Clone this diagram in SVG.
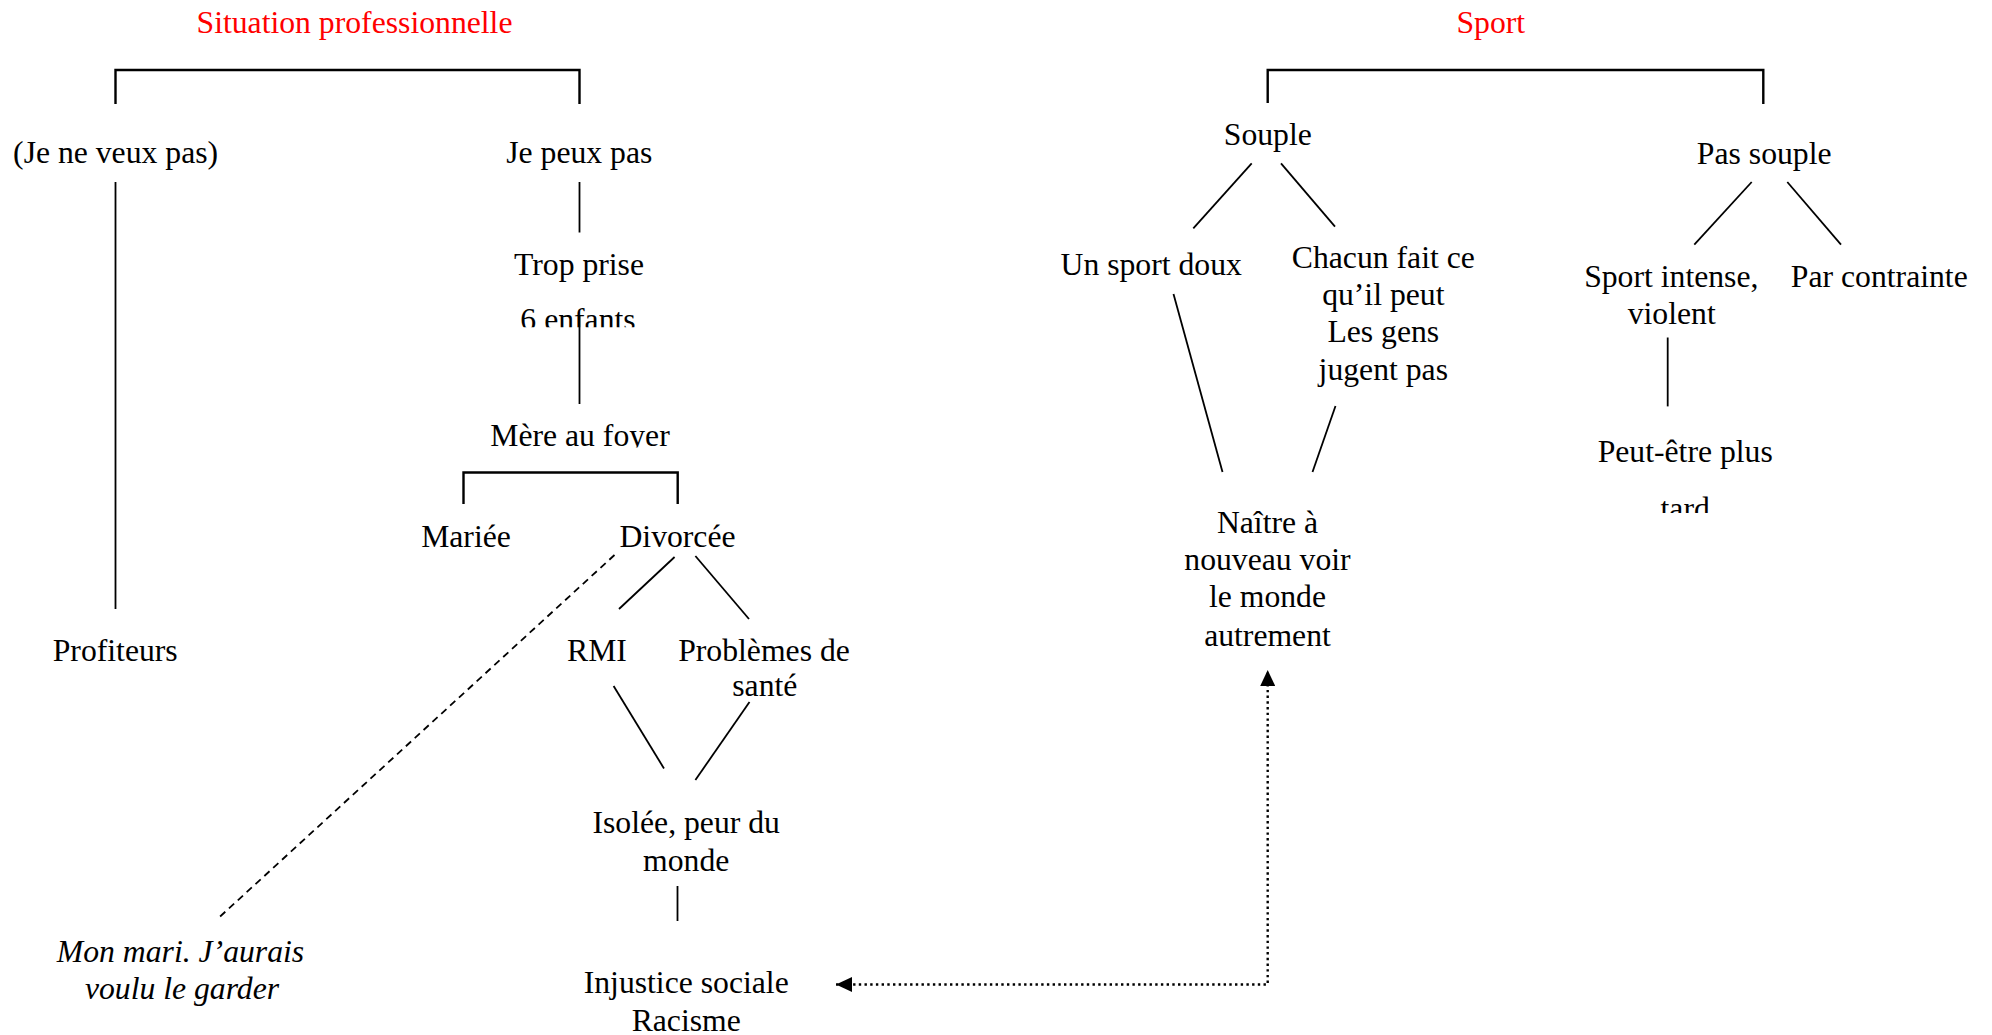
<svg xmlns="http://www.w3.org/2000/svg" width="1992" height="1035" viewBox="0 0 1992 1035">
<style>
text{font-family:"Liberation Serif","Times New Roman",serif;font-size:31.7px;fill:#000;text-anchor:middle}
.title{fill:#ff0000}
.it{font-style:italic}
.ln{stroke:#000;stroke-width:1.8;fill:none}
.br{stroke:#000;stroke-width:2.4;fill:none}
.dash{stroke:#000;stroke-width:1.8;fill:none;stroke-dasharray:7 5}
.dot{stroke:#000;stroke-width:2.4;fill:none;stroke-dasharray:2.4 3.3}
</style>
<defs>
<marker id="ah" markerUnits="userSpaceOnUse" markerWidth="16" markerHeight="15" refX="16" refY="7.5" orient="auto-start-reverse">
<path d="M0,0 L16,7.5 L0,15 Z" fill="#000"/>
</marker>
<clipPath id="c6"><rect x="480" y="290" width="200" height="37.2"/></clipPath>
<clipPath id="cm"><rect x="460" y="410" width="240" height="37.5"/></clipPath>
<clipPath id="ct"><rect x="1640" y="480" width="100" height="33"/></clipPath>
</defs>
<rect width="1992" height="1035" fill="#fff"/>

<g id="titles">
<text class="title" x="354.5" y="33">Situation professionnelle</text>
<text class="title" x="1490.8" y="33">Sport</text>
</g>

<g id="connectors">
<path class="br" d="M115.5,104 V70 H579.5 V104"/>
<path class="br" d="M1267.7,103 V70 H1763.3 V104"/>
<path class="br" d="M463.5,504 V472.5 H677.7 V504"/>
<line class="ln" x1="115.5" y1="182" x2="115.5" y2="609"/>
<line class="ln" x1="579.5" y1="182" x2="579.5" y2="232.5"/>
<line class="ln" x1="579.5" y1="316" x2="579.5" y2="404"/>
<line class="ln" x1="674.6" y1="557" x2="619" y2="609"/>
<line class="ln" x1="695.4" y1="556" x2="749" y2="619"/>
<line class="ln" x1="613.6" y1="686" x2="664" y2="768.5"/>
<line class="ln" x1="749.5" y1="702" x2="695.4" y2="780"/>
<line class="ln" x1="677.5" y1="886" x2="677.5" y2="921"/>
<line class="dash" x1="614.5" y1="555" x2="218.5" y2="918"/>
<line class="ln" x1="1251.7" y1="163.3" x2="1193.3" y2="228.3"/>
<line class="ln" x1="1281" y1="163.3" x2="1335" y2="226.7"/>
<line class="ln" x1="1173.5" y1="294" x2="1222.5" y2="472"/>
<line class="ln" x1="1335.5" y1="406" x2="1312.5" y2="472"/>
<line class="ln" x1="1751.7" y1="182" x2="1694.3" y2="244.6"/>
<line class="ln" x1="1787.3" y1="182" x2="1841" y2="244.6"/>
<line class="ln" x1="1667.7" y1="337.5" x2="1667.7" y2="406.4"/>
<path class="dot" d="M836,984.5 H1267.7 V670" marker-start="url(#ah)" marker-end="url(#ah)"/>
</g>

<g id="n-jeneveux"><text x="115.6" y="162.5">(Je ne veux pas)</text></g>
<g id="n-jepeux"><text x="579.3" y="162.5">Je peux pas</text></g>
<g id="n-trop">
<text x="579" y="275">Trop prise</text>
<text x="578" y="329.5" clip-path="url(#c6)">6 enfants</text>
</g>
<g id="n-mere"><text x="580" y="446" clip-path="url(#cm)">Mère au foyer</text></g>
<g id="n-mariee"><text x="466" y="547">Mariée</text></g>
<g id="n-divorcee"><text x="677.5" y="547">Divorcée</text></g>
<g id="n-profiteurs"><text x="115.2" y="660.5">Profiteurs</text></g>
<g id="n-rmi"><text x="597" y="660.5">RMI</text></g>
<g id="n-problemes">
<text x="764" y="660.5">Problèmes de</text>
<text x="764.8" y="696">santé</text>
</g>
<g id="n-isolee">
<text x="686.2" y="833">Isolée, peur du</text>
<text x="686.2" y="870.5">monde</text>
</g>
<g id="n-monmari">
<text class="it" x="180.5" y="961.5">Mon mari. J’aurais</text>
<text class="it" x="182" y="998.5">voulu le garder</text>
</g>
<g id="n-injustice">
<text x="686.2" y="993">Injustice sociale</text>
<text x="686.2" y="1030.5">Racisme</text>
</g>

<g id="n-souple"><text x="1267.8" y="144.5">Souple</text></g>
<g id="n-passouple"><text x="1764.2" y="163.5">Pas souple</text></g>
<g id="n-unsport"><text x="1151.2" y="274.5">Un sport doux</text></g>
<g id="n-chacun">
<text x="1383.3" y="268.2">Chacun fait ce</text>
<text x="1383.3" y="305">qu’il peut</text>
<text x="1383.3" y="341.8">Les gens</text>
<text x="1383.3" y="379.5">jugent pas</text>
</g>
<g id="n-intense">
<text x="1671.3" y="286.5">Sport intense,</text>
<text x="1671.7" y="324">violent</text>
</g>
<g id="n-contrainte"><text x="1879.3" y="286.5">Par contrainte</text></g>
<g id="n-peutetre">
<text x="1685.2" y="461.7">Peut-être plus</text>
<text x="1685.2" y="518.5" clip-path="url(#ct)">tard</text>
</g>
<g id="n-naitre">
<text x="1267.5" y="533">Naître à</text>
<text x="1267.5" y="570">nouveau voir</text>
<text x="1267.5" y="607">le monde</text>
<text x="1267.5" y="645.5">autrement</text>
</g>
</svg>
